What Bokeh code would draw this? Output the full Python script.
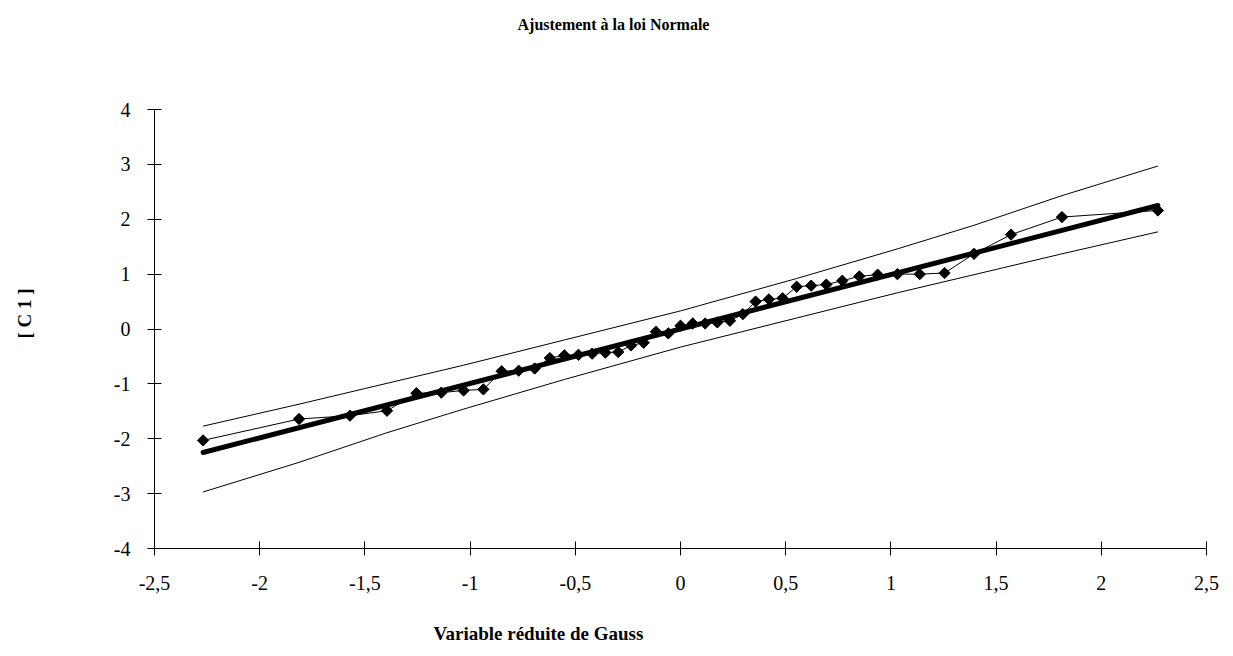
import math
from bokeh.plotting import figure
from bokeh.models import (Range1d, FixedTicker, CustomJSTickFormatter, Title,
                          LinearAxis)
from bokeh.embed import file_html
from bokeh.resources import INLINE

# Data
z_scores = [-2.269, -1.813, -1.571, -1.395, -1.255, -1.137, -1.031, -0.937, -0.850, -0.769,
            -0.693, -0.621, -0.552, -0.485, -0.420, -0.357, -0.296, -0.235, -0.175, -0.117,
            -0.058, 0.0, 0.058, 0.117, 0.175, 0.235, 0.296, 0.357, 0.420, 0.485,
            0.552, 0.621, 0.693, 0.769, 0.850, 0.937, 1.031, 1.137, 1.255, 1.395,
            1.571, 1.813, 2.269]
c1_values = [-2.03, -1.64, -1.58, -1.49, -1.17, -1.16, -1.12, -1.10, -0.77, -0.76,
             -0.72, -0.53, -0.48, -0.47, -0.45, -0.43, -0.42, -0.30, -0.25, -0.05,
             -0.08, 0.06, 0.10, 0.10, 0.12, 0.15, 0.27, 0.50, 0.54, 0.56,
             0.77, 0.79, 0.81, 0.88, 0.96, 0.99, 1.00, 1.00, 1.02, 1.37,
             1.72, 2.04, 2.16]
fit_x = [-2.269, 2.269]
fit_y = [-2.25, 2.25]
band_z = [-2.269, -1.813, -1.395, -1.031, -0.552, 0.0, 0.552, 1.031, 1.395, 1.813, 2.269]
band_upper = [-1.77, -1.37, -0.99, -0.66, -0.20, 0.33, 0.92, 1.46, 1.89, 2.43, 2.97]
band_lower = [-2.97, -2.43, -1.89, -1.46, -0.92, -0.33, 0.20, 0.66, 0.99, 1.37, 1.77]
x_ticks = [-2.5, -2, -1.5, -1, -0.5, 0, 0.5, 1, 1.5, 2, 2.5]
y_ticks = [-4, -3, -2, -1, 0, 1, 2, 3, 4]

title_text = "Ajustement à la loi Normale"
x_label_text = "Variable réduite de Gauss"
y_label_text = "[ C 1 ]"

FONT = "Liberation Serif"

p = figure(width=1233, height=656, output_backend="svg", toolbar_location=None,
           x_range=Range1d(-2.5, 2.5), y_range=Range1d(-4, 4),
           min_border_left=154, min_border_right=27, min_border_top=109,
           min_border_bottom=108)
p.title.text = ""
p.outline_line_color = None
p.xgrid.visible = False
p.ygrid.visible = False
p.background_fill_color = "white"
p.border_fill_color = "white"

fmt = CustomJSTickFormatter(code="return tick.toString().replace('.', ',');")
p.xaxis.ticker = FixedTicker(ticks=x_ticks)
p.yaxis.ticker = FixedTicker(ticks=y_ticks)
p.xaxis.formatter = fmt
p.yaxis.formatter = fmt
for ax in (p.xaxis, p.yaxis):
    ax.major_tick_in = 7
    ax.major_tick_out = 7
    ax.minor_tick_line_color = None
    ax.axis_line_color = "black"
    ax.major_tick_line_color = "black"
    ax.major_label_text_font = FONT
    ax.major_label_text_font_size = "20px"
    ax.major_label_text_color = "black"
p.xaxis.major_label_standoff = 20
p.yaxis.major_label_standoff = 17

blank_fmt = CustomJSTickFormatter(code="return '';")


def spacer(size):
    # invisible axis used only to reserve room between the frame and a title
    return LinearAxis(ticker=FixedTicker(ticks=[0]), formatter=blank_fmt,
                      major_tick_out=size, major_tick_in=0,
                      major_label_standoff=0,
                      axis_line_color=None, major_tick_line_color=None,
                      minor_tick_line_color=None, minor_tick_out=0)


# Confidence bands
p.line(band_z, band_upper, line_color="black", line_width=1)
p.line(band_z, band_lower, line_color="black", line_width=1)

# Observations
p.line(z_scores, c1_values, line_color="black", line_width=1)
p.scatter(z_scores, c1_values, marker="square", angle=math.pi / 4, size=8,
          fill_color="black", line_color="black")

# Fitted normal line
p.line(fit_x, fit_y, line_color="black", line_width=5, line_cap="round")

# Titles placed with spacers
p.add_layout(spacer(77), "above")
p.add_layout(Title(text=title_text, text_font=FONT, text_font_size="16px",
                   text_font_style="bold", text_color="black", align="left",
                   offset=363, standoff=0, vertical_align="bottom"), "above")

p.add_layout(spacer(28), "below")
p.add_layout(Title(text=x_label_text, text_font=FONT, text_font_size="19px",
                   text_font_style="bold", text_color="black", align="left",
                   offset=279, standoff=0, vertical_align="bottom"), "below")

p.add_layout(spacer(76), "left")
p.add_layout(Title(text=y_label_text, text_font=FONT, text_font_size="19px",
                   text_font_style="bold", text_color="black", align="left",
                   offset=210, standoff=0, vertical_align="bottom"), "left")

open("out.html", "w").write(file_html(p, INLINE))
